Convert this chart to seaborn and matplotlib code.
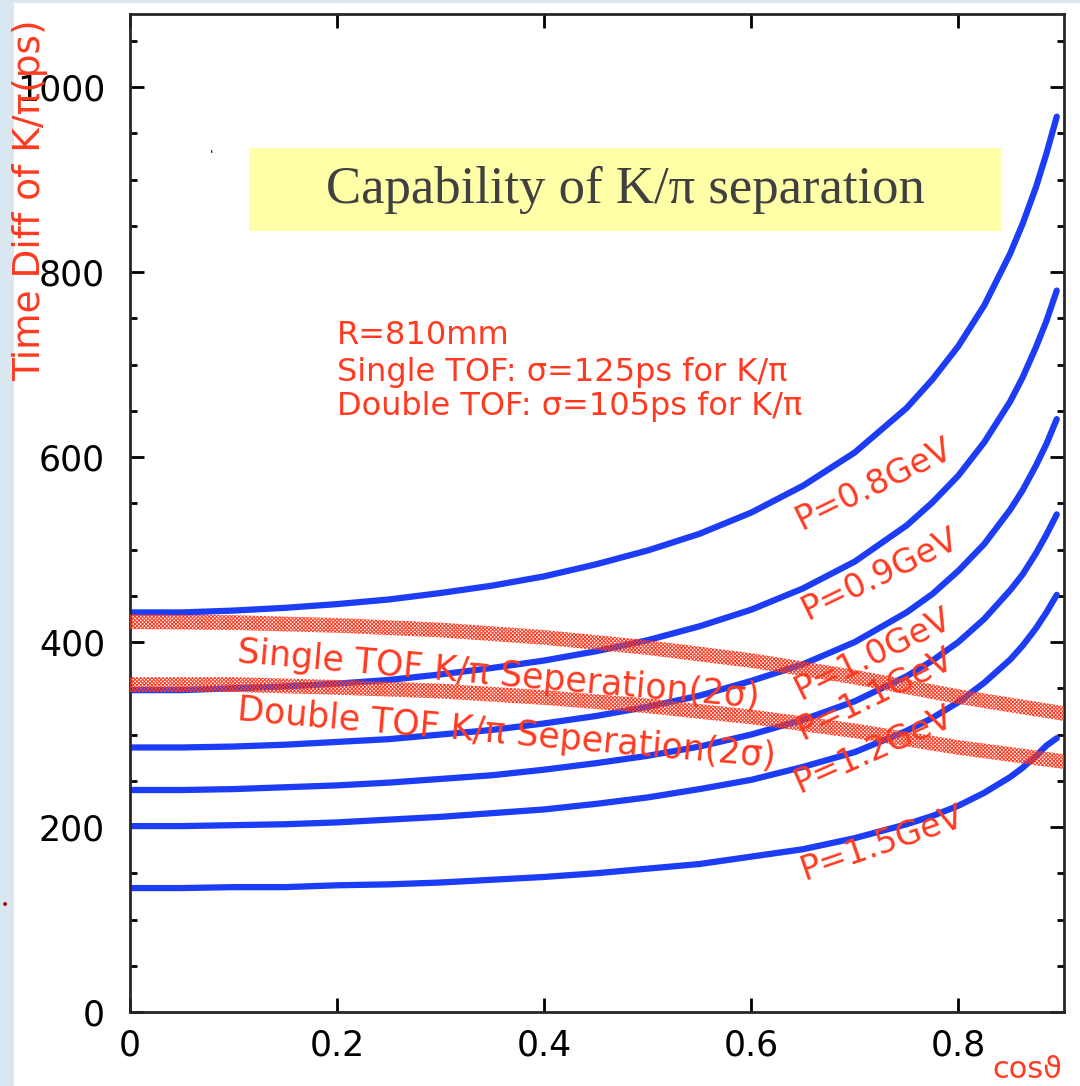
import matplotlib.pyplot as plt
import numpy as np
import pandas as pd
import seaborn as sns
from matplotlib.patches import Rectangle

# cos(theta) sample points
cos_theta = [0, 0.05, 0.1, 0.15, 0.2, 0.25, 0.3, 0.35, 0.4, 0.45, 0.5, 0.55,
             0.6, 0.65, 0.7, 0.75, 0.775, 0.8, 0.825, 0.85, 0.862, 0.875, 0.885, 0.895]

# K/pi time difference (ps) for each momentum
dt_p08 = [432, 432, 434, 437, 441, 446, 453, 461, 471, 484, 499, 517,
          540, 569, 605, 653, 684, 720, 764, 820, 852, 892, 928, 968]
dt_p09 = [348, 348, 350, 352, 355, 359, 365, 372, 380, 390, 402, 417,
          435, 458, 487, 526, 551, 580, 616, 660, 686, 719, 747, 780]
dt_p10 = [286, 286, 287, 289, 292, 295, 300, 305, 312, 320, 330, 342,
          358, 376, 400, 432, 452, 477, 506, 543, 564, 591, 614, 641]
dt_p11 = [240, 240, 241, 243, 245, 248, 252, 256, 262, 269, 277, 287,
          300, 316, 336, 363, 380, 400, 425, 456, 473, 496, 516, 538]
dt_p12 = [201, 201, 202, 203, 205, 208, 211, 215, 219, 225, 232, 241,
          251, 265, 281, 304, 318, 335, 356, 381, 396, 415, 432, 451]
dt_p15 = [134, 134, 135, 135, 137, 138, 140, 143, 146, 150, 155, 160,
          168, 176, 188, 203, 212, 223, 237, 254, 264, 277, 288, 296]

momenta = ["P=0.8GeV", "P=0.9GeV", "P=1.0GeV", "P=1.1GeV", "P=1.2GeV", "P=1.5GeV"]
# label anchor (cos, ps) and rotation for each momentum label
label_x = [0.649, 0.655, 0.648, 0.650, 0.647, 0.652]
label_y = [521, 424, 337, 294, 237, 143]
label_rot = [26, 26, 26, 26, 24, 19]

# 2-sigma separation bands
band_x = [0, 0.1, 0.2, 0.3, 0.4, 0.5, 0.6, 0.7, 0.8, 0.9, 0.902]
single_sep = [422, 421, 418, 413, 405, 394, 380, 362, 341, 323, 322]
double_sep = [354, 354, 351, 347, 340, 331, 319, 304, 286, 271, 270]
band_half = 8

RED = "#ff3a20"
BLUE = "#1c3cf5"

sns.set_style("ticks")
plt.rcParams["font.family"] = ["DejaVu Sans"]
plt.rcParams["hatch.linewidth"] = 0.7

fig = plt.figure(figsize=(10.8, 10.86), dpi=100, facecolor="#d9e7f1")
fig.patches.append(Rectangle((14 / 1080, 0), 1, 1083 / 1086, transform=fig.transFigure,
                             facecolor="white", edgecolor="none", zorder=-5))
ax = fig.add_axes([130 / 1080, 1 - 1012 / 1086, 934 / 1080, 998 / 1086])

curves = pd.DataFrame({
    "cos": cos_theta * 6,
    "dt": dt_p08 + dt_p09 + dt_p10 + dt_p11 + dt_p12 + dt_p15,
    "P": np.repeat(momenta, len(cos_theta)),
})
sns.lineplot(data=curves, x="cos", y="dt", units="P", estimator=None,
             color=BLUE, lw=4.5, ax=ax, legend=False, zorder=2)

for sep in (single_sep, double_sep):
    lo = np.array(sep) - band_half
    hi = np.array(sep) + band_half
    ax.fill_between(band_x, lo, hi, facecolor="none", edgecolor=RED,
                    hatch="x" * 9, linewidth=0, zorder=3)

for name, lx, ly, rot in zip(momenta, label_x, label_y, label_rot):
    ax.text(lx, ly, name, color=RED, fontsize=24, rotation=rot,
            rotation_mode="anchor", ha="left", va="baseline", zorder=4)

ax.text(0.103, 378, "Single TOF K/\u03c0 Seperation(2\u03c3)", color=RED, fontsize=25,
        rotation=-5, rotation_mode="anchor", ha="left", va="baseline", zorder=4)
ax.text(0.103, 316, "Double TOF K/\u03c0 Seperation(2\u03c3)", color=RED, fontsize=25,
        rotation=-5, rotation_mode="anchor", ha="left", va="baseline", zorder=4)

info = ["R=810mm",
        "Single TOF: \u03c3=125ps for K/\u03c0",
        "Double TOF: \u03c3=105ps for K/\u03c0"]
for line, iy in zip(info, [722, 682, 645]):
    ax.text(0.2, iy, line, color=RED, fontsize=23, ha="left", va="baseline")

# title box
ax.add_patch(Rectangle((0.115, 844), 0.7265, 90, facecolor="#ffffa8",
                       edgecolor="none", zorder=1))
ax.text(0.478, 889, "Capability of K/\u03c0 separation", family=["Liberation Serif"],
        fontsize=38, color="#404040", ha="center", va="center", zorder=2)
ax.text(0.079, 926, "'", fontsize=9, color="black", ha="center", va="center")

ax.set_xlim(0, 0.902)
ax.set_ylim(0, 1079)
ax.set_xticks([0, 0.2, 0.4, 0.6, 0.8])
ax.set_xticklabels(["0", "0.2", "0.4", "0.6", "0.8"])
ax.set_yticks([0, 200, 400, 600, 800, 1000])
ax.set_yticks(np.arange(50, 1079, 50), minor=True)
ax.tick_params(which="both", direction="in", top=True, right=True, width=2,
               colors="black", labelsize=25)
ax.tick_params(which="major", length=10)
ax.tick_params(which="minor", length=5)
ax.tick_params(axis="y", pad=18)
ax.tick_params(axis="x", pad=12)
for s in ax.spines.values():
    s.set_linewidth(2)
    s.set_visible(True)
ax.set_xlabel("")
ax.set_ylabel("")

# y label overlaps the tick labels, as in the original
fig.text(30 / 1080, 1 - 200 / 1086, "Time Diff of K/\u03c0(ps)", rotation=90, color=RED,
         fontsize=27, ha="center", va="center")
fig.text(1062 / 1080, 2 / 1086, "cos\u03d1", color=RED, fontsize=22, ha="right", va="bottom")
fig.text(5 / 1080, 1 - 905 / 1086, "\u2022", color="#a01010", fontsize=10,
         ha="center", va="center")

fig.savefig("out.png", dpi=100, facecolor=fig.get_facecolor())
